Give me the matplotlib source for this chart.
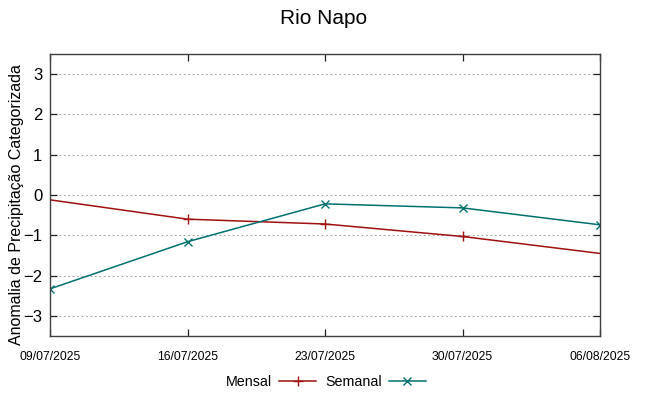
import matplotlib
matplotlib.use("Agg")
import matplotlib.pyplot as plt
import matplotlib.transforms as mtransforms
from datetime import datetime

dates = ["09/07/2025", "16/07/2025", "23/07/2025", "30/07/2025", "06/08/2025"]
mensal = [-0.12, -0.60, -0.72, -1.03, -1.45]
semanal = [-2.33, -1.16, -0.22, -0.32, -0.74]
yticks = [-3, -2, -1, 0, 1, 2, 3]

x = [datetime.strptime(d, "%d/%m/%Y") for d in dates]

plt.rcParams['font.family'] = ['Liberation Sans', 'DejaVu Sans']

fig = plt.figure(figsize=(6.48, 3.96), dpi=100)
ax = fig.add_axes([50/648, 1-336/396, 550/648, 282/396])

ax.plot(x, mensal, color='#a01010', lw=1.1, marker='+', ms=7, mew=1.0,
        markevery=[1, 2, 3], label='Mensal')
ax.plot(x, semanal, color='#007070', lw=1.1, marker='x', ms=5.5, mew=1.0,
        label='Semanal')

ax.set_xlim(x[0], x[-1])
ax.set_ylim(-3.5, 3.5)
ax.set_yticks(yticks)
ax.set_xticks(x)
ax.set_xticklabels(dates, fontsize=8.8)
offset = mtransforms.ScaledTranslation(7/100, 0, fig.dpi_scale_trans)
for lbl in ax.get_xticklabels():
    lbl.set_transform(lbl.get_transform() + offset)
ax.tick_params(axis='y', labelsize=12, pad=5.5)
ax.tick_params(direction='in', top=True, right=True, length=5, width=0.9, color='#202020')
ax.tick_params(axis='x', pad=11)
ax.grid(axis='y', linestyle=(0, (1.5, 2.5)), color='#a0a0a0', lw=0.8)
for s in ax.spines.values():
    s.set_color('#404040')
    s.set_linewidth(1.0)

ax.set_ylabel('Anomalia de Precipitação Categorizada', fontsize=11.5, va='center')
ax.yaxis.set_label_coords((17-50)/550, (336-205)/282)
fig.text(0.5, 1-18/396, 'Rio Napo', ha='center', va='center', fontsize=15)

leg = fig.legend(loc='center', bbox_to_anchor=(326/648, 1-382/396), ncol=2, frameon=False,
                 markerfirst=False, fontsize=10.3, handlelength=2.6, columnspacing=0.6,
                 handletextpad=0.5)

fig.savefig('out.png', dpi=100)
